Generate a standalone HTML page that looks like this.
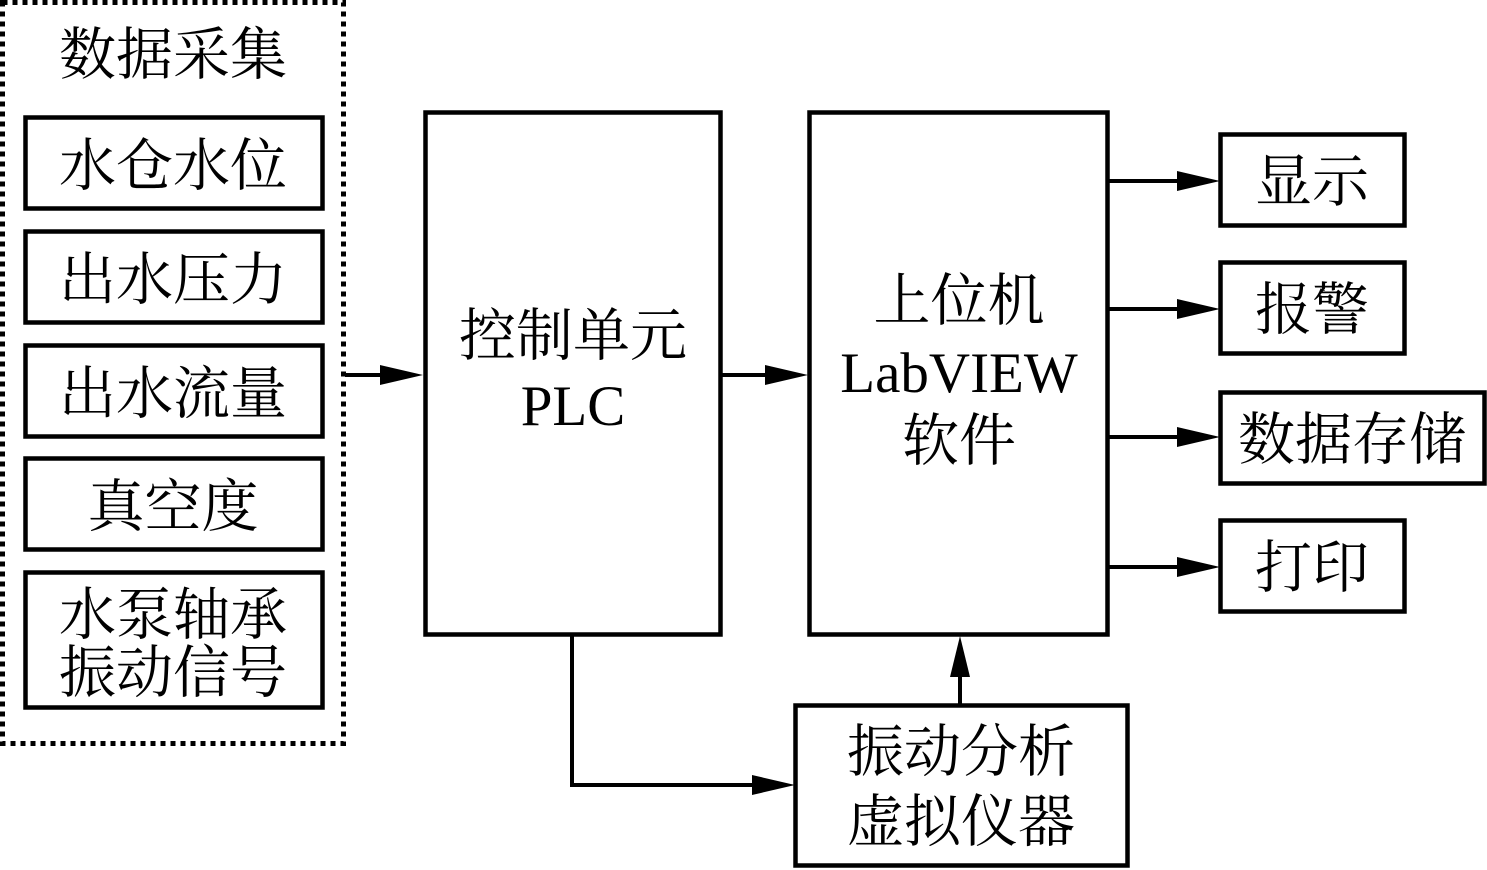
<!DOCTYPE html>
<html><head><meta charset="utf-8"><style>
html,body{margin:0;padding:0;background:#fff;}
svg{display:block;}
text{font-family:"Liberation Serif","Noto Serif CJK SC",serif;font-size:57px;fill:#000;text-anchor:middle;}
</style></head><body>
<svg width="1487" height="870" viewBox="0 0 1487 870" xmlns="http://www.w3.org/2000/svg">
<g fill="none" stroke="#000">
<rect x="2.5" y="2.5" width="341" height="741" stroke-width="5" stroke-dasharray="5,5"/>
<g stroke-width="4.5">
<rect x="25.5" y="117.5" width="297" height="91"/>
<rect x="25.5" y="231.5" width="297" height="91"/>
<rect x="25.5" y="345.5" width="297" height="91"/>
<rect x="25.5" y="458.5" width="297" height="91"/>
<rect x="25.5" y="572.5" width="297" height="135"/>
<rect x="425.5" y="112.5" width="295" height="522"/>
<rect x="809.5" y="112.5" width="298" height="522"/>
<rect x="1220.5" y="134.5" width="184" height="91"/>
<rect x="1220.5" y="262.5" width="184" height="91"/>
<rect x="1220.5" y="392.5" width="264" height="91"/>
<rect x="1220.5" y="520.5" width="184" height="91"/>
<rect x="795.5" y="705.5" width="332" height="160"/>
</g>
<g stroke-width="4">
<line x1="345" y1="375" x2="385" y2="375"/>
<line x1="722" y1="375" x2="770" y2="375"/>
<line x1="1108" y1="181" x2="1182" y2="181"/>
<line x1="1108" y1="309" x2="1182" y2="309"/>
<line x1="1108" y1="437" x2="1182" y2="437"/>
<line x1="1108" y1="567" x2="1182" y2="567"/>
<polyline points="572,636 572,785 755,785"/>
<line x1="960" y1="705" x2="960" y2="672"/>
</g>
</g>
<g fill="#000">
<path d="M380,365 L423,375 L380,385z"/>
<path d="M765,365 L808,375 L765,385z"/>
<path d="M1177,171 L1220,181 L1177,191z"/>
<path d="M1177,299 L1220,309 L1177,319z"/>
<path d="M1177,427 L1220,437 L1177,447z"/>
<path d="M1177,557 L1220,567 L1177,577z"/>
<path d="M752,775 L795,785 L752,795z"/>
<path d="M950,677 L960,636 L970,677z"/>
</g>
<text x="173" y="74">数据采集</text>
<text x="173" y="185">水仓水位</text>
<text x="173" y="299">出水压力</text>
<text x="173" y="413">出水流量</text>
<text x="173" y="526">真空度</text>
<text x="173" y="634">水泵轴承</text>
<text x="173" y="692">振动信号</text>
<text x="573" y="355">控制单元</text>
<text x="573" y="425">PLC</text>
<text x="959" y="320">上位机</text>
<text x="959" y="392">LabVIEW</text>
<text x="959" y="460">软件</text>
<text x="1312" y="201">显示</text>
<text x="1312" y="329">报警</text>
<text x="1352" y="459">数据存储</text>
<text x="1312" y="587">打印</text>
<text x="961" y="771">振动分析</text>
<text x="961" y="841">虚拟仪器</text>
</svg>
</body></html>
